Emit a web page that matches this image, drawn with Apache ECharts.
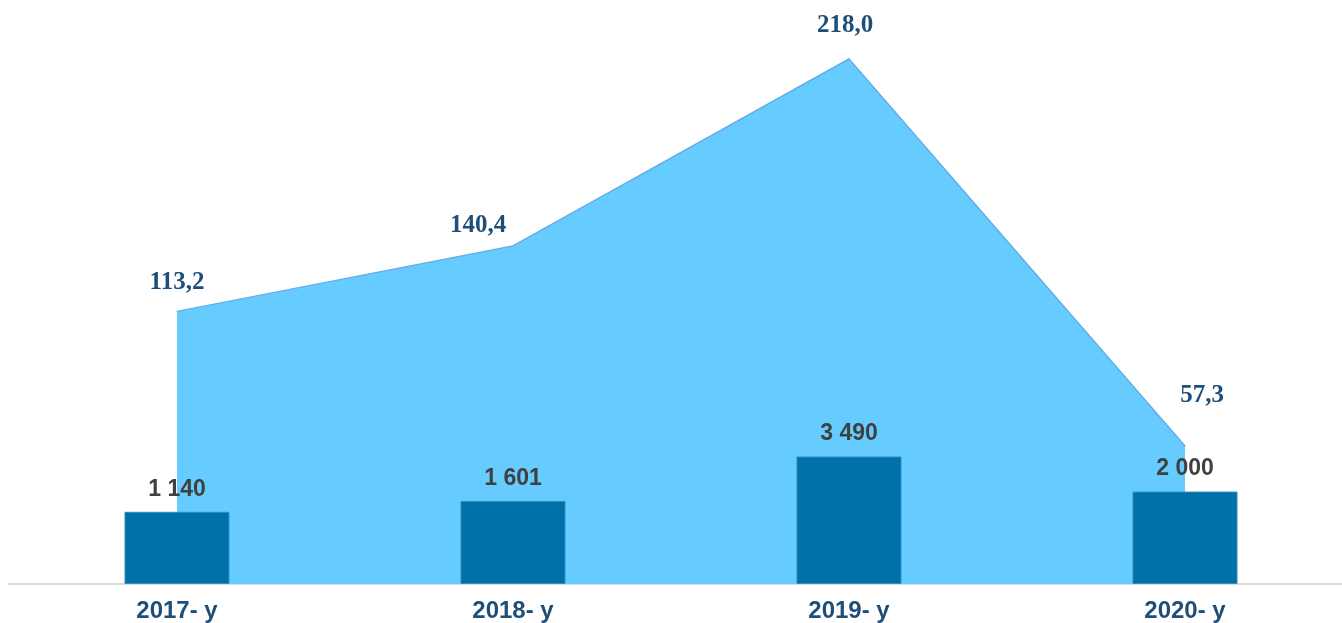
<!DOCTYPE html>
<html>
<head>
<meta charset="utf-8">
<script src="https://cdn.jsdelivr.net/npm/echarts@6/dist/echarts.min.js"></script>
<style>
  html, body { margin: 0; padding: 0; background: #fff; }
  #chart { width: 1342px; height: 623px; }
</style>
</head>
<body>
<div id="chart"></div>
<script>
  // chart data
  const years = ['2017- y', '2018- y', '2019- y', '2020- y'];
  const areaValues = [113.2, 140.4, 218.0, 57.3];
  const barValues = [1140, 1601, 3490, 2000];

  // label nudges for the area points (dx, dy in px)
  const areaLabelOffsets = [[0, -16], [-35, -7], [-4, -20], [17, -37]];

  const fmtComma = v => v.toFixed(1).replace('.', ',');
  const fmtSpace = v => String(v).replace(/\B(?=(\d{3})+(?!\d))/g, ' ');

  const chart = echarts.init(document.getElementById('chart'));
  chart.setOption({
    animation: false,
    grid: { left: 9, width: 1344, top: 6, bottom: 39, outerBoundsMode: 'none' },
    xAxis: {
      type: 'category',
      data: years,
      boundaryGap: true,
      axisLine: { lineStyle: { color: '#d9d9d9', width: 2 } },
      axisTick: { show: false },
      axisLabel: {
        color: '#1f4e79',
        fontFamily: 'Liberation Sans',
        fontWeight: 'bold',
        fontSize: 24,
        margin: 15
      }
    },
    yAxis: [
      { type: 'value', min: 0, max: 240, show: false, splitLine: { show: false } },
      { type: 'value', min: -1930, max: 22645, startValue: -1930, show: false, splitLine: { show: false } }
    ],
    series: [
      {
        type: 'line',
        yAxisIndex: 0,
        data: areaValues.map((v, i) => ({
          value: v,
          label: { offset: areaLabelOffsets[i] }
        })),
        symbol: 'circle',
        symbolSize: 1,
        showSymbol: true,
        itemStyle: { color: '#62aee8' },
        lineStyle: { color: '#62aee8', width: 1.5 },
        areaStyle: { color: '#66ccff', opacity: 1 },
        z: 1,
        label: {
          show: true,
          position: 'top',
          distance: 0,
          formatter: p => fmtComma(p.value),
          color: '#1f4e79',
          fontFamily: 'Liberation Serif',
          fontWeight: 'bold',
          fontSize: 25
        }
      },
      {
        type: 'bar',
        yAxisIndex: 1,
        data: barValues,
        barWidth: 105,
        itemStyle: { color: '#0071a8', borderColor: '#2f8cc0', borderWidth: 1 },
        z: 3,
        label: {
          show: true,
          position: 'top',
          distance: 11,
          formatter: p => fmtSpace(p.value),
          color: '#404040',
          fontFamily: 'Liberation Sans',
          fontWeight: 'bold',
          fontSize: 23
        }
      }
    ]
  });
</script>
</body>
</html>
